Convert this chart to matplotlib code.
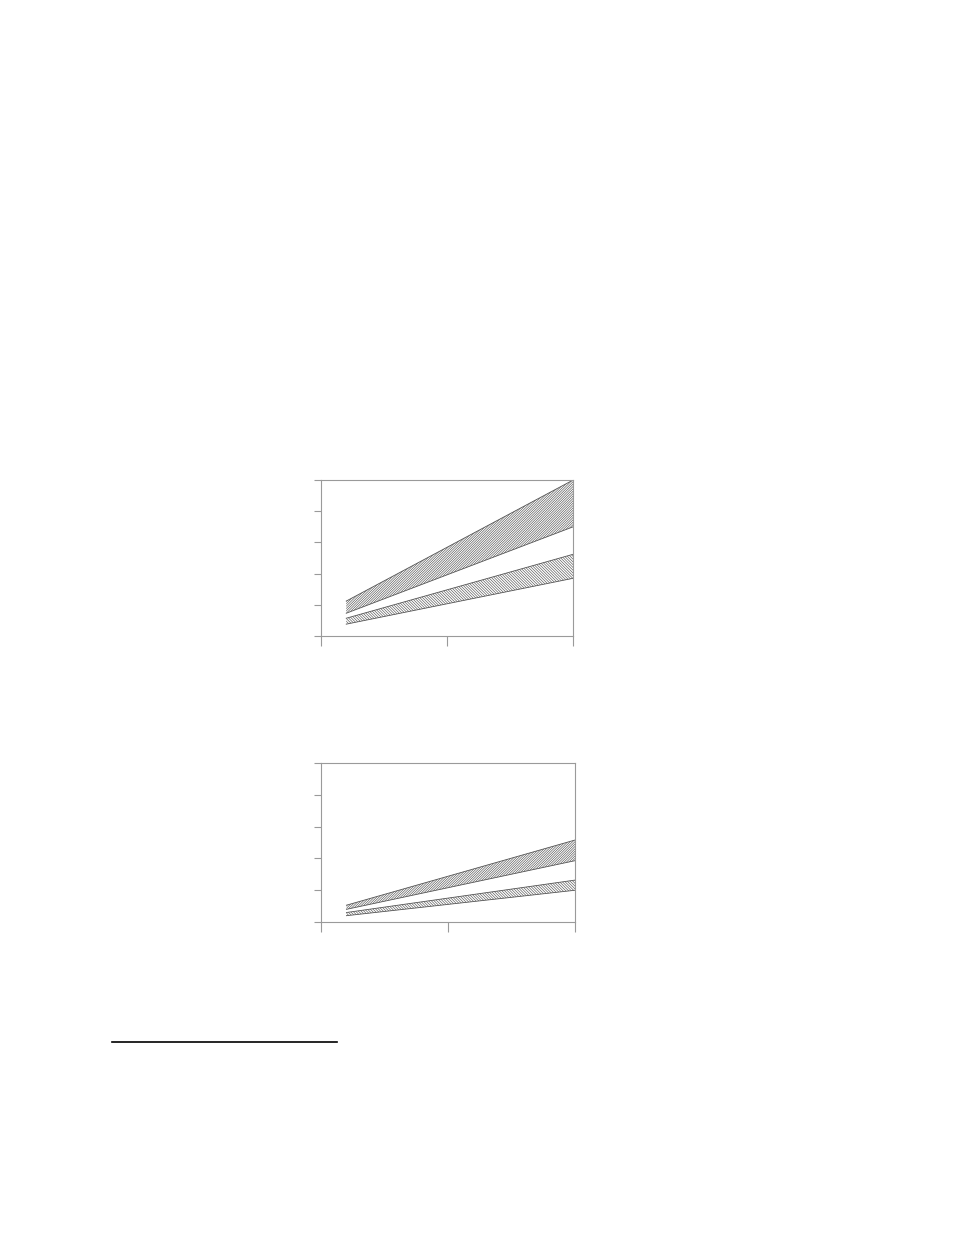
import numpy as np
import matplotlib.pyplot as plt

# Two bare band charts on a page; no labels visible in the reference
x_ends = [0.2, 2.0]

# top chart: (lower edge, upper edge) at the two ends
top_upper_lo = [0.73, 3.50]
top_upper_hi = [1.12, 5.00]
top_lower_lo = [0.38, 1.85]
top_lower_hi = [0.57, 2.62]

# bottom chart
bot_upper_lo = [0.40, 1.93]
bot_upper_hi = [0.53, 2.58]
bot_lower_lo = [0.20, 1.00]
bot_lower_hi = [0.30, 1.32]

x_ticks = [0, 1, 2]
y_ticks = [0, 1, 2, 3, 4, 5]

plt.rcParams['hatch.linewidth'] = 0.45

fig = plt.figure(figsize=(9.54, 12.35), dpi=100)

def band_axes(rect, bands):
    ax = fig.add_axes(rect)
    for lo, hi, hatch in bands:
        ax.fill_between(x_ends, lo, hi, facecolor='white', edgecolor='#555555',
                        hatch=hatch, linewidth=0)
        ax.plot(x_ends, lo, color='#555555', lw=0.6)
        ax.plot(x_ends, hi, color='#555555', lw=0.6)
    ax.set_xlim(0, 2)
    ax.set_ylim(0, 5)
    ax.set_xticks(x_ticks)
    ax.set_yticks(y_ticks)
    ax.set_xticklabels([])
    ax.set_yticklabels([])
    for s in ax.spines.values():
        s.set_color('#9a9a9a')
        s.set_linewidth(0.8)
    ax.tick_params(axis='x', direction='out', length=7, width=0.8, color='#9a9a9a')
    ax.tick_params(axis='y', direction='out', length=5, width=0.8, color='#9a9a9a')
    return ax

band_axes([0.3365, 0.485, 0.2642, 0.1263],
          [(top_upper_lo, top_upper_hi, '/' * 14),
           (top_lower_lo, top_lower_hi, '\\' * 12)])
band_axes([0.3365, 0.2534, 0.2662, 0.1287],
          [(bot_upper_lo, bot_upper_hi, '/' * 14),
           (bot_lower_lo, bot_lower_hi, '\\' * 12)])

# footnote rule
fig.add_artist(plt.Line2D([112/954, 337/954], [1 - 1042/1235] * 2,
                          color='black', lw=1.2))

fig.savefig('out.png', dpi=100)
